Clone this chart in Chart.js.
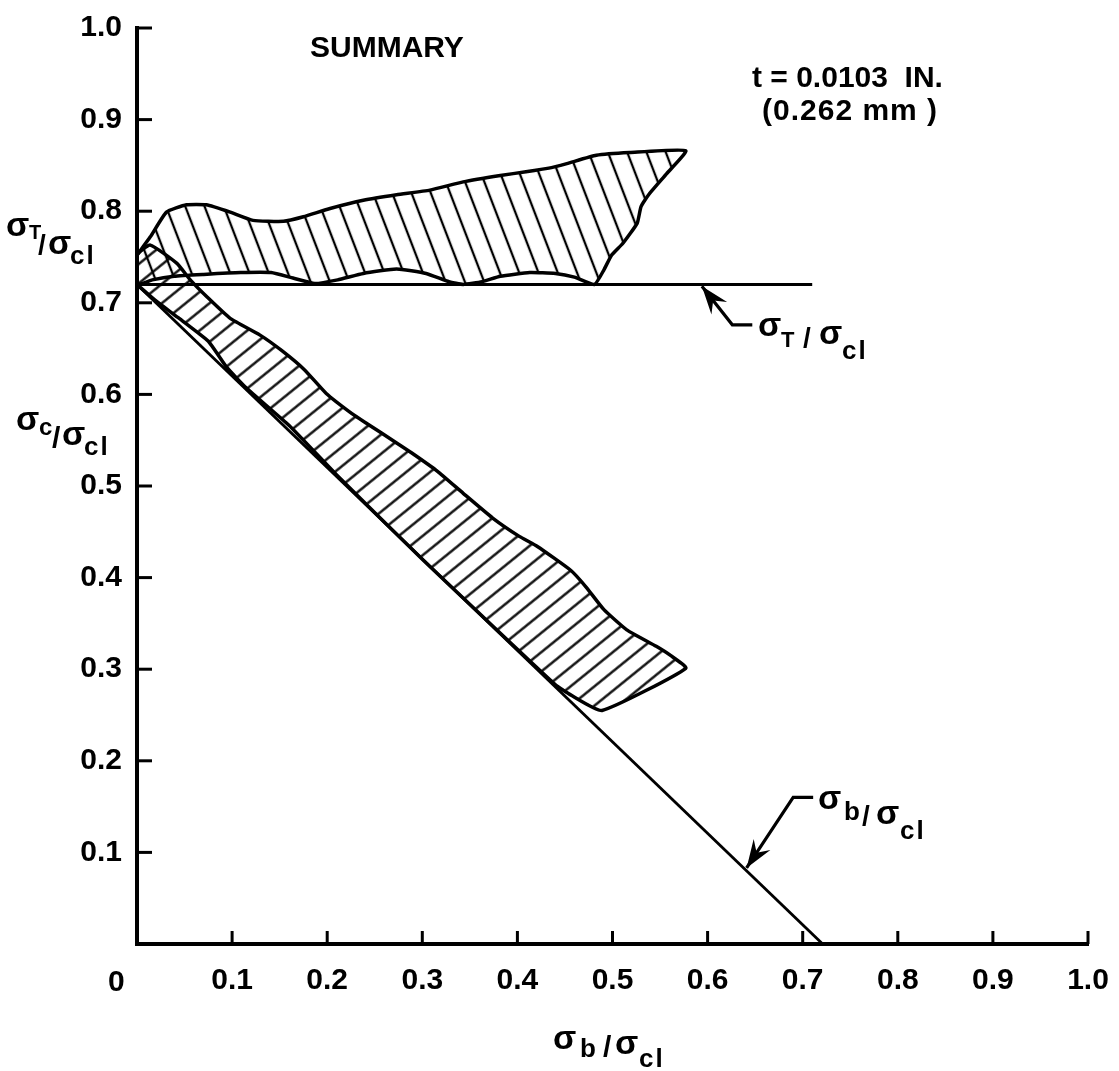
<!DOCTYPE html>
<html>
<head>
<meta charset="utf-8">
<script src="https://cdn.jsdelivr.net/npm/chart.js@4.4.1/dist/chart.umd.min.js"></script>
<style>
  html, body { margin: 0; padding: 0; background: #fff; }
  #wrap { width: 1119px; height: 1071px; }
</style>
</head>
<body>
<div id="wrap"><canvas id="summaryChart" width="1119" height="1071"></canvas></div>
<script>
// Values (x = sigma_b/sigma_cl)

// sigma_T/sigma_cl scatter band, outline in drawing order
const tBandX = [0, 0.014, 0.031, 0.052, 0.073, 0.098, 0.122, 0.154, 0.175, 0.203, 0.238, 0.273, 0.308, 0.343, 0.382, 0.409, 0.433, 0.452, 0.483, 0.518, 0.577,
  0.557, 0.538, 0.530, 0.526, 0.511, 0.499, 0.491, 0.481,
  0.460, 0.440, 0.413, 0.382, 0.363, 0.343, 0.328, 0.304, 0.273, 0.238, 0.211, 0.187, 0.164, 0.141, 0.109, 0.070, 0.039, 0.016, 0, 0];
const tBandY = [0.752, 0.772, 0.799, 0.807, 0.807, 0.799, 0.790, 0.789, 0.794, 0.803, 0.812, 0.818, 0.823, 0.832, 0.839, 0.843, 0.847, 0.852, 0.861, 0.864, 0.866,
  0.841, 0.818, 0.805, 0.787, 0.765, 0.752, 0.736, 0.720,
  0.728, 0.732, 0.733, 0.729, 0.723, 0.720, 0.723, 0.732, 0.737, 0.732, 0.725, 0.721, 0.727, 0.733, 0.733, 0.731, 0.729, 0.725, 0.720, 0.752];

// sigma_c/sigma_cl scatter band
const cBandX = [0, 0, 0.014, 0.042, 0.056, 0.074, 0.098, 0.129, 0.152, 0.176, 0.199, 0.226, 0.242, 0.273, 0.289, 0.316, 0.343, 0.374, 0.402, 0.421, 0.456, 0.472, 0.491, 0.515, 0.546, 0.561, 0.577,
  0.489, 0.456, 0.440, 0.300, 0.210, 0.160, 0.115, 0.094, 0.075, 0.043, 0.020, 0];
const cBandY = [0.720, 0.752, 0.763, 0.743, 0.725, 0.706, 0.683, 0.665, 0.648, 0.627, 0.601, 0.579, 0.568, 0.547, 0.536, 0.516, 0.492, 0.465, 0.445, 0.434, 0.408, 0.390, 0.365, 0.343, 0.325, 0.315, 0.301,
  0.255, 0.272, 0.283, 0.420, 0.512, 0.566, 0.607, 0.630, 0.658, 0.684, 0.702, 0.720];

// reference lines
const tLineX = [0, 0.71];
const tLineY = [0.72, 0.72];
const bLineX = [0, 0.721];
const bLineY = [0.72, 0];

const axisTicks = [0.1, 0.2, 0.3, 0.4, 0.5, 0.6, 0.7, 0.8, 0.9, 1.0];

const FONT = '"Liberation Sans", Arial, sans-serif';

function toPoints(xs, ys) {
  return xs.map((v, i) => ({ x: v, y: ys[i] }));
}

// line hatch fill, spacing in px, angle in degrees
function hatch(spacing, angle, width) {
  const c = document.createElement('canvas');
  c.width = spacing;
  c.height = spacing;
  const g = c.getContext('2d');
  g.strokeStyle = '#000';
  g.lineWidth = width;
  g.beginPath();
  g.moveTo(spacing / 2, 0);
  g.lineTo(spacing / 2, spacing);
  g.stroke();
  const p = g.createPattern(c, 'repeat');
  p.setTransform(new DOMMatrix().rotateSelf(angle));
  return p;
}

function seg(ctx, x1, y1, x2, y2) {
  ctx.beginPath();
  ctx.moveTo(x1, y1);
  ctx.lineTo(x2, y2);
  ctx.stroke();
}

// text runs: [text, size, dx, baseline]
function runs(ctx, x0, parts) {
  parts.forEach(([t, size, dx, by]) => {
    ctx.font = 'bold ' + size + 'px ' + FONT;
    ctx.letterSpacing = t === 'cl' ? '2px' : '0px';
    ctx.fillText(t, x0 + dx, by);
  });
  ctx.letterSpacing = '0px';
}

function arrow(ctx, pts) {
  ctx.lineWidth = 3.2;
  ctx.beginPath();
  ctx.moveTo(pts[0][0], pts[0][1]);
  pts.slice(1).forEach(p => ctx.lineTo(p[0], p[1]));
  ctx.stroke();
  const [tx, ty] = pts[0];
  const [bx, by] = pts[1];
  const a = Math.atan2(ty - by, tx - bx);
  const len = 28, half = 10;
  ctx.beginPath();
  ctx.moveTo(tx, ty);
  ctx.lineTo(tx - len * Math.cos(a) + half * Math.sin(a), ty - len * Math.sin(a) - half * Math.cos(a));
  ctx.lineTo(tx - len * 0.65 * Math.cos(a), ty - len * 0.65 * Math.sin(a));
  ctx.lineTo(tx - len * Math.cos(a) - half * Math.sin(a), ty - len * Math.sin(a) + half * Math.cos(a));
  ctx.closePath();
  ctx.fill();
}

const decorations = {
  id: 'decorations',
  afterDraw(chart) {
    const { ctx, scales: { x, y } } = chart;
    const X = v => x.getPixelForValue(v);
    const Y = v => y.getPixelForValue(v);
    ctx.save();
    ctx.strokeStyle = '#000';
    ctx.fillStyle = '#000';
    ctx.lineWidth = 3;

    // tick marks point into the plot
    axisTicks.forEach(v => {
      seg(ctx, X(v), y.bottom, X(v), y.bottom - 13);
      seg(ctx, x.left, Y(v), x.left + 15, Y(v));
    });

    ctx.textBaseline = 'alphabetic';
    ctx.textAlign = 'left';
    ctx.font = 'bold 30px ' + FONT;
    ctx.fillText('0', 108, 991);

    ctx.fillText('SUMMARY', 310, 57);
    ctx.fillText('t = 0.0103  IN.', 752, 87);
    ctx.letterSpacing = '1px';
    ctx.fillText('(0.262 mm )', 762, 120);
    ctx.letterSpacing = '0px';

    // axis titles
    runs(ctx, 6, [['σ', 34, 0, 236], ['T', 20, 23, 239], ['/', 28, 32, 254], ['σ', 34, 42, 254], ['cl', 26, 64, 264]]);
    runs(ctx, 16, [['σ', 34, 0, 430], ['c', 24, 23, 435], ['/', 30, 36, 448], ['σ', 34, 46, 445], ['cl', 26, 68, 455]]);
    runs(ctx, 553, [['σ', 34, 0, 1049], ['b', 26, 27, 1057], ['/', 30, 50, 1057], ['σ', 34, 62, 1054], ['cl', 26, 86, 1067]]);

    // curve labels
    runs(ctx, 758, [['σ', 34, 0, 336], ['T', 22, 23, 347], ['/', 28, 45, 347], ['σ', 34, 61, 344], ['cl', 26, 84, 359]]);
    runs(ctx, 818, [['σ', 34, 0, 809], ['b', 26, 26, 820], ['/', 28, 44, 825], ['σ', 34, 58, 824], ['cl', 26, 82, 839]]);

    arrow(ctx, [[X(0.594), Y(0.718)], [X(0.626), Y(0.676)], [X(0.647), Y(0.676)]]);
    arrow(ctx, [[X(0.641), Y(0.083)], [X(0.690), Y(0.160)], [X(0.711), Y(0.160)]]);

    ctx.restore();
  }
};

const ctx = document.getElementById('summaryChart').getContext('2d');

new Chart(ctx, {
  type: 'line',
  data: {
    datasets: [
      {
        label: 'sigma_T band',
        data: toPoints(tBandX, tBandY),
        fill: 'shape',
        backgroundColor: hatch(18, -21, 2.3),
        borderColor: '#000',
        borderWidth: 3.5,
        tension: 0.15
      },
      {
        label: 'sigma_c band',
        data: toPoints(cBandX, cBandY),
        fill: 'shape',
        backgroundColor: hatch(15, 51, 2.3),
        borderColor: '#000',
        borderWidth: 3.5,
        tension: 0.15
      },
      {
        label: 'sigma_T/sigma_cl',
        data: toPoints(tLineX, tLineY),
        borderColor: '#000',
        borderWidth: 2.8,
        fill: false
      },
      {
        label: 'sigma_b/sigma_cl',
        data: toPoints(bLineX, bLineY),
        borderColor: '#000',
        borderWidth: 2.8,
        fill: false
      }
    ]
  },
  options: {
    responsive: false,
    animation: false,
    devicePixelRatio: 1,
    layout: { padding: { left: 0, right: 31, top: 28, bottom: 0 } },
    elements: { point: { radius: 0, hoverRadius: 0 } },
    plugins: {
      legend: { display: false },
      tooltip: { enabled: false }
    },
    scales: {
      x: {
        type: 'linear',
        min: 0,
        max: 1,
        ticks: {
          stepSize: 0.1,
          padding: 19,
          color: '#000',
          font: { family: FONT, size: 30, weight: 'bold' },
          callback: v => (v === 0 ? '' : v.toFixed(1))
        },
        grid: { drawOnChartArea: false, drawTicks: false },
        border: { display: true, color: '#000', width: 4 },
        afterFit: s => { s.height = 127; s.paddingLeft = 0; s.paddingRight = 0; }
      },
      y: {
        min: 0,
        max: 1,
        ticks: {
          stepSize: 0.1,
          padding: 15,
          color: '#000',
          font: { family: FONT, size: 30, weight: 'bold' },
          callback: v => (v === 0 ? '' : v.toFixed(1))
        },
        grid: { drawOnChartArea: false, drawTicks: false },
        border: { display: true, color: '#000', width: 4 },
        afterFit: s => { s.width = 137; s.paddingTop = 0; s.paddingBottom = 0; }
      }
    }
  },
  plugins: [decorations]
});
</script>
</body>
</html>
